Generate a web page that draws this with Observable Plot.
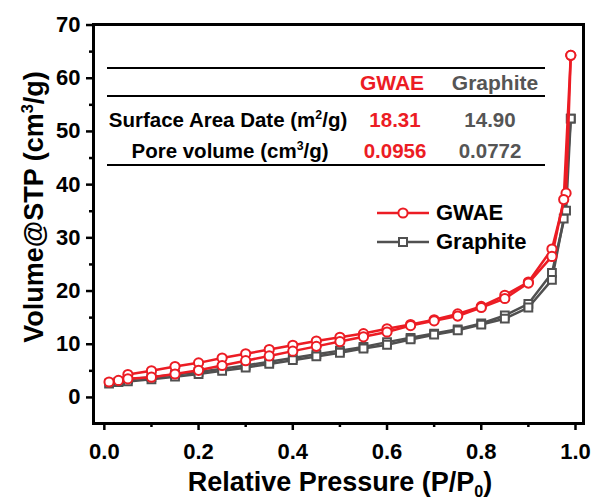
<!DOCTYPE html>
<html><head><meta charset="utf-8">
<script src="https://cdn.jsdelivr.net/npm/d3@7"></script>
<script src="https://cdn.jsdelivr.net/npm/@observablehq/plot@0.6"></script>
<style>
body{margin:0;background:#fff;font-family:"Liberation Sans",Arial,sans-serif;font-weight:bold;}
#wrap{position:relative;width:594px;height:499px;overflow:hidden;}
.abs{position:absolute;white-space:nowrap;line-height:1;}
.c{transform:translate(-50%,-50%);}
.l{transform:translate(0,-50%);}
sup,sub{font-size:0.6em;line-height:0;}
.rule{position:absolute;height:0;border-top:2.5px solid #000;}
</style></head><body><div id="wrap"></div>
<script>
// ---- data ----
const seriesNames = ["GWAE", "Graphite"];
const seriesColors = ["#ec1c24", "#505050"];

const gwaeAdsP = [0.01,0.03,0.05,0.10,0.15,0.20,0.25,0.30,0.35,0.40,0.45,0.50,0.55,0.60,0.65,0.70,0.75,0.80,0.85,0.90,0.95,0.98,0.99];
const gwaeAdsV = [2.9,3.2,4.3,5.0,5.8,6.5,7.4,8.2,9.0,9.8,10.6,11.3,12.0,12.9,13.7,14.6,15.7,17.1,19.2,21.7,27.9,38.4,64.3];
const gwaeDesP = [0.99,0.975,0.95,0.90,0.85,0.80,0.75,0.70,0.65,0.60,0.55,0.50,0.45,0.40,0.35,0.30,0.25,0.20,0.15,0.10,0.05];
const gwaeDesV = [64.3,37.2,26.5,21.5,18.6,16.9,15.3,14.4,13.5,12.3,11.4,10.5,9.6,8.7,7.8,6.9,6.0,5.1,4.4,3.8,3.5];

const graAdsP = [0.01,0.03,0.05,0.10,0.15,0.20,0.25,0.30,0.35,0.40,0.45,0.50,0.55,0.60,0.65,0.70,0.75,0.80,0.85,0.90,0.95,0.98,0.99];
const graAdsV = [2.6,2.9,3.4,3.8,4.3,4.8,5.4,6.0,6.7,7.4,8.1,8.8,9.5,10.4,11.2,12.0,12.8,13.9,15.4,17.6,23.4,35.1,52.4];
const graDesP = [0.99,0.975,0.95,0.90,0.85,0.80,0.75,0.70,0.65,0.60,0.55,0.50,0.45,0.40,0.35,0.30,0.25,0.20,0.15,0.10,0.05];
const graDesV = [52.4,33.6,22.1,16.9,14.8,13.7,12.6,11.8,10.9,9.9,9.2,8.4,7.7,7.0,6.3,5.6,5.0,4.4,3.9,3.4,3.0];

const xMajorTicks = [0.0,0.2,0.4,0.6,0.8,1.0];
const xMinorTicks = [0.1,0.3,0.5,0.7,0.9];
const yMajorTicks = [0,10,20,30,40,50,60,70];
const yMinorTicks = [5,15,25,35,45,55,65];

const tableRowLabels = ["Surface Area Date (m<sup>2</sup>/g)", "Pore volume (cm<sup>3</sup>/g)"];
const surfaceArea = [18.31, 14.90];
const poreVolume = [0.0956, 0.0772];

// ---- build ----
function rows(series, branch, P, V) { return P.map((p, i) => ({series, branch, p, v: V[i]})); }
const gwae = [...rows("GWAE","ads",gwaeAdsP,gwaeAdsV), ...rows("GWAE","des",gwaeDesP,gwaeDesV)];
const gra = [...rows("Graphite","ads",graAdsP,graAdsV), ...rows("Graphite","des",graDesP,graDesV)];

const color = {domain: seriesNames, range: seriesColors};
const axisFont = {fontSize: 22, fontWeight: "bold", fill: "#000"};

const chart = Plot.plot({
  width: 594, height: 499,
  marginLeft: 93, marginRight: 11, marginTop: 24, marginBottom: 76,
  x: {domain: [-0.023, 1.017]},
  y: {domain: [-4.9, 70.1]},
  color,
  style: {fontFamily: '"Liberation Sans", Arial, sans-serif', fontWeight: "bold", background: "#fff"},
  marks: [
    Plot.line(gra, {x: "p", y: "v", z: "branch", stroke: "series", strokeWidth: 2.5}),
    Plot.dot(gra, {x: "p", y: "v", symbol: "square", r: 4.4, stroke: "series", fill: "#fff", strokeWidth: 2}),
    Plot.line(gwae, {x: "p", y: "v", z: "branch", stroke: "series", strokeWidth: 2.5}),
    Plot.dot(gwae, {x: "p", y: "v", r: 4.6, stroke: "series", fill: "#fff", strokeWidth: 2}),
    Plot.axisX({ticks: xMajorTicks, tickSize: 7, tickPadding: 13, strokeWidth: 2.5, tickFormat: d3.format(".1f"), label: null, ...axisFont}),
    Plot.axisX({ticks: xMinorTicks, tickSize: 4, strokeWidth: 2.5, tickFormat: () => "", label: null}),
    Plot.axisY({ticks: yMajorTicks, tickSize: 7, tickPadding: 6, strokeWidth: 2.5, tickFormat: d3.format("d"), label: null, ...axisFont}),
    Plot.axisY({ticks: yMinorTicks, tickSize: 4, strokeWidth: 2.5, tickFormat: () => "", label: null}),
    Plot.frame({strokeWidth: 3, stroke: "#000"})
  ]
});

const wrap = document.getElementById("wrap");
wrap.appendChild(chart);

function add(html, left, top, cls, style) {
  const d = document.createElement("div");
  d.className = "abs " + cls;
  d.innerHTML = html;
  d.style.left = left + "px"; d.style.top = top + "px";
  Object.assign(d.style, style || {});
  wrap.appendChild(d);
  return d;
}

// axis titles
add("Relative Pressure (P/P<sub>0</sub>)", 340, 482, "c", {fontSize: "27px"});
add("Volume@STP (cm<sup>3</sup>/g)", 34, 207, "", {fontSize: "27px", transform: "translate(-50%,-50%) rotate(-90deg)"});

// table
[68, 96, 165].forEach(y => {
  const r = document.createElement("div");
  r.className = "rule";
  r.style.left = "107px"; r.style.width = "438px"; r.style.top = (y - 1) + "px";
  wrap.appendChild(r);
});
const colX = [392, 495];
const valX = [395, 490];
const tfs = "20.5px";
seriesNames.forEach((s, i) => add(s, colX[i], 82, "c", {fontSize: "21px", color: i === 0 ? "#ec1c24" : "#555"}));
add(tableRowLabels[0], 228, 120, "c", {fontSize: tfs, color: "#000"});
add(tableRowLabels[1], 230, 151, "c", {fontSize: tfs, color: "#000"});
surfaceArea.forEach((v, i) => add(v.toFixed(2), valX[i], 120, "c", {fontSize: tfs, color: i === 0 ? "#ec1c24" : "#555"}));
poreVolume.forEach((v, i) => add(v.toFixed(4), valX[i], 151, "c", {fontSize: tfs, color: i === 0 ? "#ec1c24" : "#555"}));

// legend
const legY = [213, 242];
seriesNames.forEach((s, i) => {
  const c = seriesColors[i];
  const mk = i === 0
    ? `<circle cx="26" cy="8" r="4.6" fill="#fff" stroke="${c}" stroke-width="2"/>`
    : `<rect x="22" y="4" width="8" height="8" fill="#fff" stroke="${c}" stroke-width="2"/>`;
  add(`<svg width="52" height="16" style="display:block"><line x1="0" y1="8" x2="52" y2="8" stroke="${c}" stroke-width="2.5"/>${mk}</svg>`, 377, legY[i], "l");
  add(s, 436, legY[i], "l", {fontSize: "22px", color: "#000"});
});
</script>
</body></html>
